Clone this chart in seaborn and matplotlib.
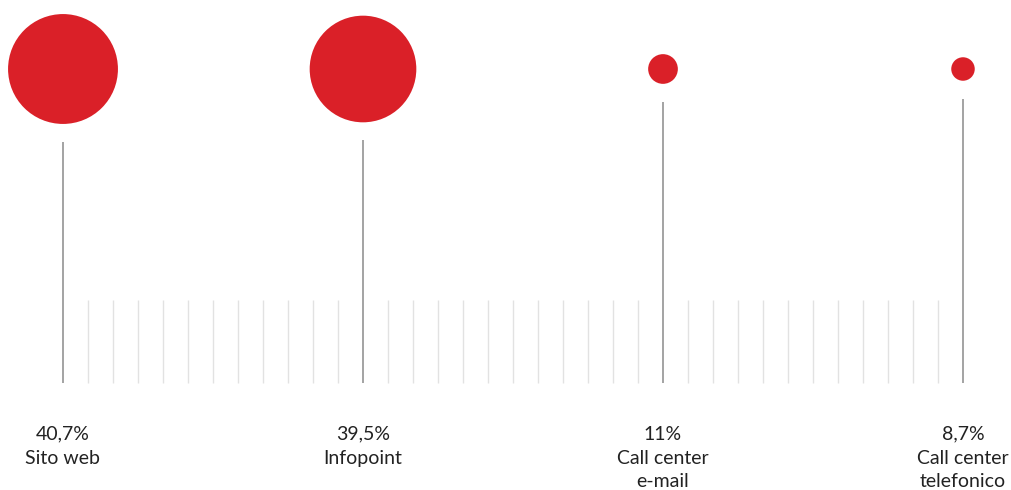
import numpy as np
import pandas as pd
import seaborn as sns
import matplotlib.pyplot as plt

# Data
channels = ['Sito web', 'Infopoint', 'Call center\ne-mail', 'Call center\ntelefonico']
shares = [40.7, 39.5, 11.0, 8.7]

df = pd.DataFrame({'channel': channels, 'share': shares})
df['pos'] = np.arange(len(df))
df['y'] = 69
# radius in pixels grows linearly with the share
df['radius'] = df['share'] * 1.35
df['area'] = (df['radius'] * 2 * 0.72) ** 2

sns.set_theme(style='white')
plt.rcParams['font.family'] = ['Lato', 'DejaVu Sans']

fig = plt.figure(figsize=(10.12, 4.9), dpi=100)
ax = fig.add_axes([0, 0, 1, 1])
ax.set_xlim(-63 / 300, 3 + 49 / 300)
ax.set_ylim(490, 0)
ax.axis('off')

# light gray ruler ticks between the stems
minor = np.arange(0, 3 + 1e-9, 1 / 12)
minor = minor[np.abs(minor - np.round(minor)) > 1e-6]
ax.vlines(minor, 300, 383, color='#e2e2e2', lw=1.0, zorder=1)

# stems
ax.vlines(df['pos'], df['y'] + df['radius'] + 18, 383, color='#9c9c9c', lw=1.3, zorder=2)

# bubbles
sns.scatterplot(data=df, x='pos', y='y', size='area',
                sizes=(df['area'].min(), df['area'].max()),
                color='#da2028', linewidth=0, legend=False, ax=ax, zorder=3)
ax.set_xlabel('')
ax.set_ylabel('')

# labels
for _, row in df.iterrows():
    pct = f"{row['share']:g}".replace('.', ',') + '%'
    ax.text(row['pos'], 434, pct, ha='center', va='center', fontsize=14,
            color='#222222')
    for i, line in enumerate(row['channel'].split('\n')):
        ax.text(row['pos'], 458 + 23.5 * i, line, ha='center', va='center',
                fontsize=14, color='#222222')

fig.savefig('out.png', dpi=100)
